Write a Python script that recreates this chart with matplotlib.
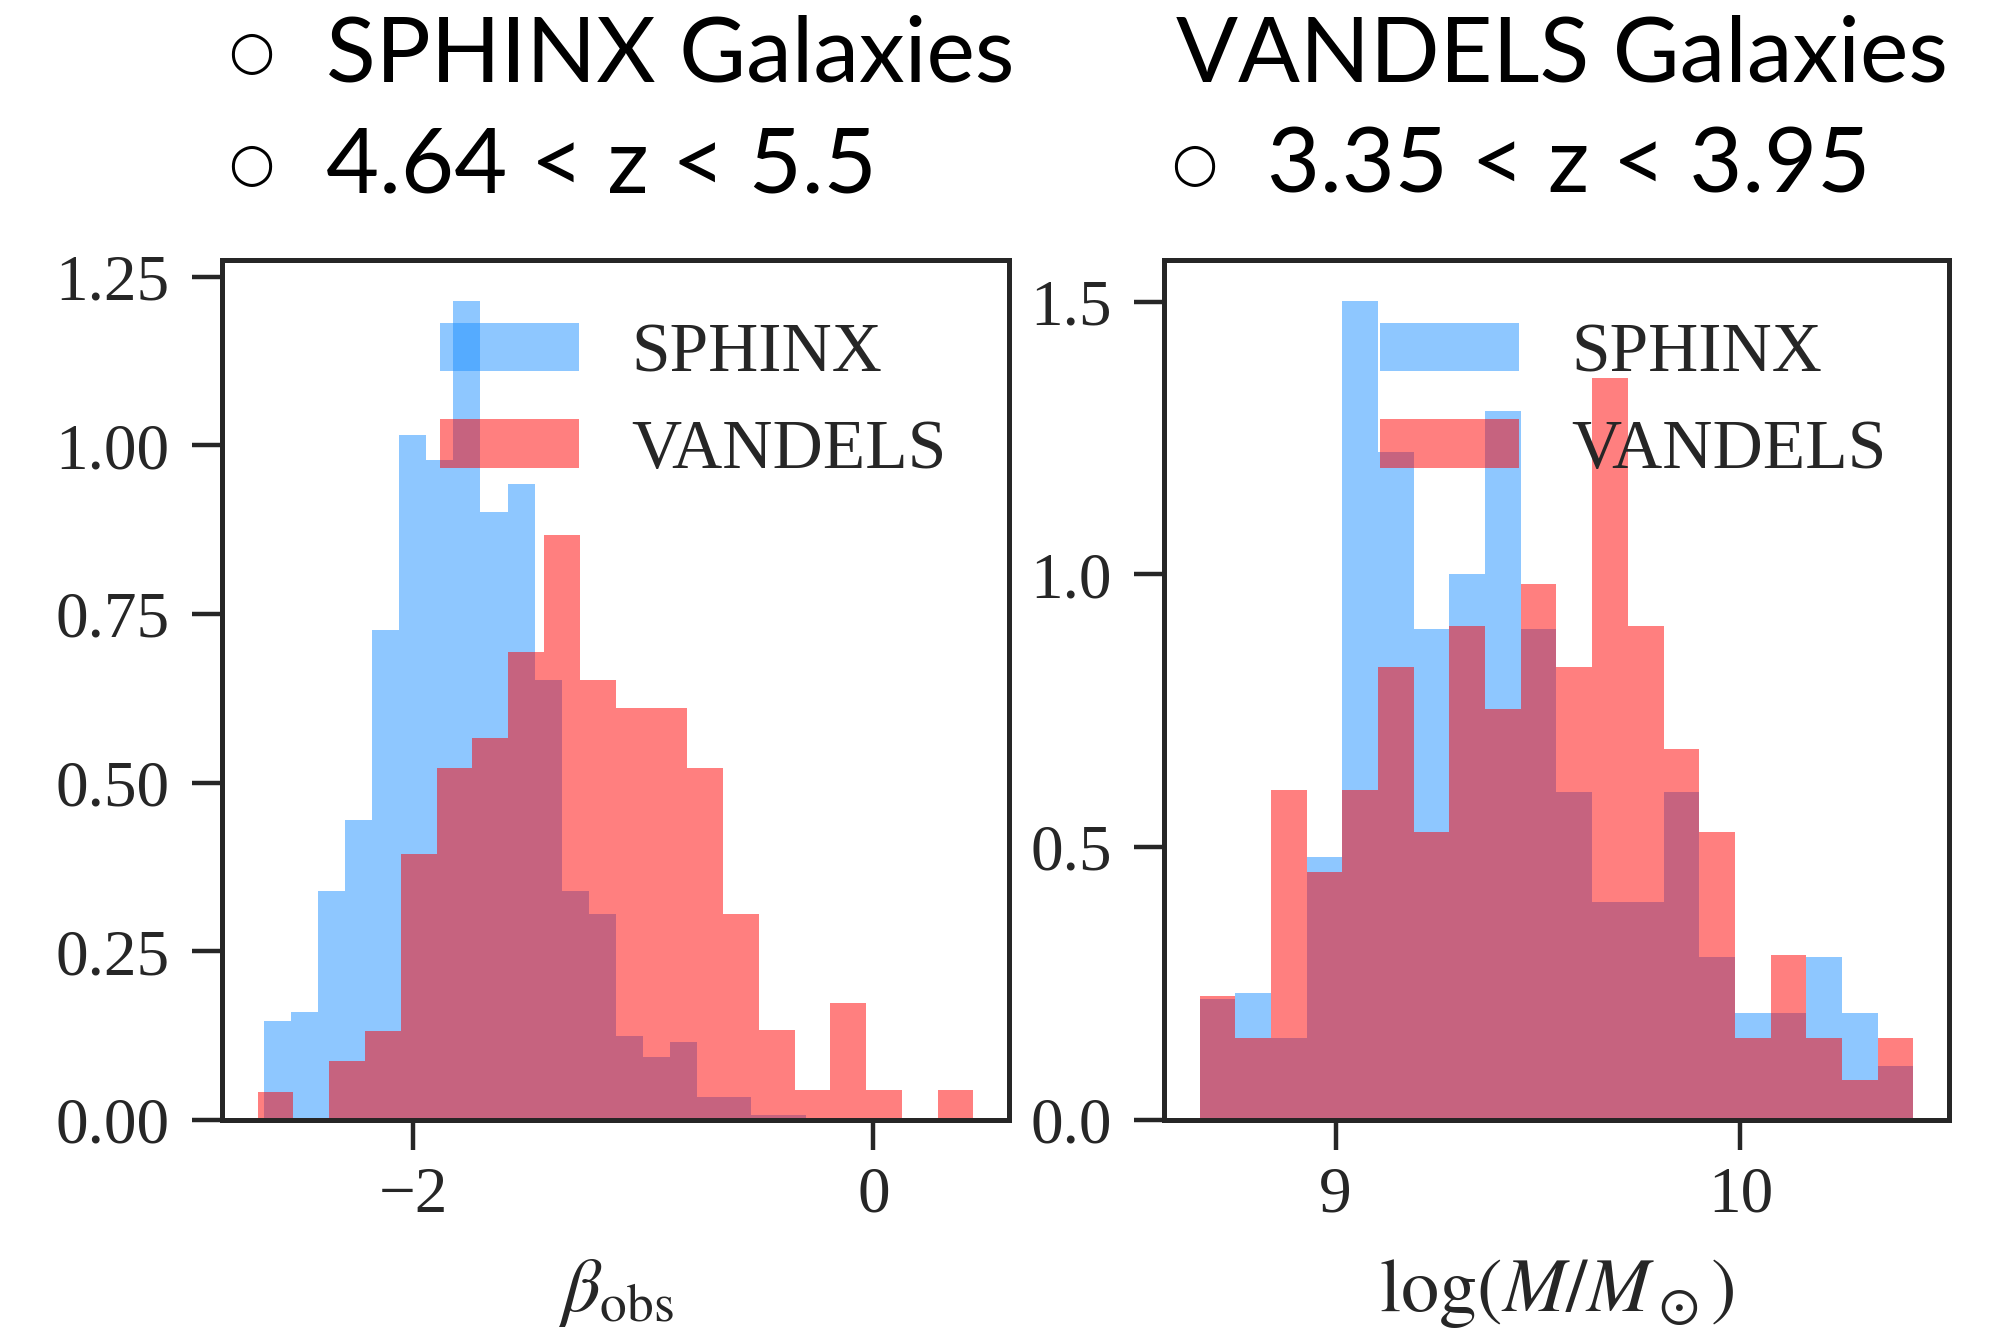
import matplotlib
matplotlib.use("Agg")
import matplotlib.pyplot as plt
import numpy as np

# ---- UV slope (beta_obs) distributions, normalised densities per bin ----
beta_sphinx_range = (-2.649, -0.294)
beta_sphinx_density = [0.146, 0.160, 0.339, 0.445, 0.726, 1.015, 0.978, 1.214,
                       0.901, 0.942, 0.652, 0.339, 0.305, 0.124, 0.094, 0.116,
                       0.034, 0.034, 0.008, 0.008]

beta_vandels_range = (-2.675, 0.435)
beta_vandels_density = [0.042, 0.0, 0.087, 0.132, 0.394, 0.522, 0.566, 0.694,
                        0.867, 0.652, 0.611, 0.611, 0.522, 0.305, 0.133, 0.045,
                        0.173, 0.045, 0.0, 0.045]

# ---- stellar mass distributions, normalised densities per bin ----
mass_range = (8.664, 10.427)
mass_sphinx_density = [0.222, 0.232, 0.150, 0.481, 1.501, 1.224, 0.900, 1.000,
                       1.300, 0.900, 0.601, 0.399, 0.399, 0.601, 0.299, 0.196,
                       0.196, 0.299, 0.196, 0.098]
mass_vandels_density = [0.227, 0.150, 0.604, 0.454, 0.604, 0.831, 0.527, 0.905,
                        0.754, 0.982, 0.831, 1.359, 0.905, 0.680, 0.527, 0.150,
                        0.302, 0.150, 0.074, 0.150]

series_labels = ["SPHINX", "VANDELS"]
beta_ticks_x = [-2, 0]
beta_ticks_y = [0.0, 0.25, 0.50, 0.75, 1.00, 1.25]
mass_ticks_x = [9, 10]
mass_ticks_y = [0.0, 0.5, 1.0, 1.5]

header_left = ["SPHINX Galaxies", "4.64 < z < 5.5"]
header_right = ["VANDELS Galaxies", "3.35 < z < 3.95"]

SPHINX_COLOR = "#1E90FF"
VANDELS_COLOR = "#FF0000"
INK = "#262626"

plt.rcParams["font.family"] = ["Liberation Serif", "DejaVu Serif"]
plt.rcParams["mathtext.fontset"] = "stix"

fig = plt.figure(figsize=(20.12, 13.32), dpi=100)
ax_beta = fig.add_axes([0.1103, 0.1592, 0.3913, 0.6456])
ax_mass = fig.add_axes([0.5785, 0.1592, 0.3902, 0.6456])


def draw_pair(ax, rng_a, dens_a, rng_b, dens_b):
    edges_a = np.linspace(rng_a[0], rng_a[1], len(dens_a) + 1)
    edges_b = np.linspace(rng_b[0], rng_b[1], len(dens_b) + 1)
    ax.hist(edges_a[:-1], bins=edges_a, weights=dens_a, color=SPHINX_COLOR,
            alpha=0.5, label=series_labels[0])
    ax.hist(edges_b[:-1], bins=edges_b, weights=dens_b, color=VANDELS_COLOR,
            alpha=0.5, label=series_labels[1])


draw_pair(ax_beta, beta_sphinx_range, beta_sphinx_density,
          beta_vandels_range, beta_vandels_density)
draw_pair(ax_mass, mass_range, mass_sphinx_density,
          mass_range, mass_vandels_density)

ax_beta.set_xticks(beta_ticks_x)
ax_beta.set_yticks(beta_ticks_y)
ax_beta.set_yticklabels([f"{v:.2f}" for v in beta_ticks_y])
ax_mass.set_xticks(mass_ticks_x)
ax_mass.set_yticks(mass_ticks_y)
ax_mass.set_yticklabels([f"{v:.1f}" for v in mass_ticks_y])

ax_beta.set_xlabel(r"$\beta_{\mathrm{obs}}$", fontsize=55, labelpad=22, color=INK)
ax_mass.set_xlabel(r"$\log(M/M_\odot)$", fontsize=55, labelpad=22, color=INK)

for ax in (ax_beta, ax_mass):
    for sp in ax.spines.values():
        sp.set_linewidth(3.6)
        sp.set_color(INK)
    ax.tick_params(axis="both", direction="out", length=21.5, width=3.2,
                   color=INK, labelcolor=INK, labelsize=47)
    ax.tick_params(axis="x", pad=12)
    ax.tick_params(axis="y", pad=16)
    leg = ax.legend(loc="upper right", frameon=False, fontsize=50,
                    handlelength=2.0, handleheight=0.7, labelspacing=0.48,
                    handletextpad=0.75)
    for t in leg.get_texts():
        t.set_color(INK)

# header lines above the panels
head_kw = dict(family=["Lato", "DejaVu Sans"], fontsize=66, color="black",
               va="baseline", ha="left")
bullet_kw = dict(family="DejaVu Sans", fontweight="bold", fontsize=38,
                 color="black", ha="center", va="center")

fig.text(0.162, 1 - 81.7 / 1332, header_left[0], **head_kw)
fig.text(0.162, 1 - 192.7 / 1332, header_left[1], **head_kw)
fig.text(0.5846, 1 - 81.7 / 1332, header_right[0], **head_kw)
fig.text(0.6297, 1 - 192.7 / 1332, header_right[1], **head_kw)

fig.text(251.3 / 2012, 1 - 53.3 / 1332, "\u25cb", **bullet_kw)
fig.text(251.3 / 2012, 1 - 165 / 1332, "\u25cb", **bullet_kw)
fig.text(1194 / 2012, 1 - 165 / 1332, "\u25cb", **bullet_kw)

fig.savefig("out.png", dpi=100)
